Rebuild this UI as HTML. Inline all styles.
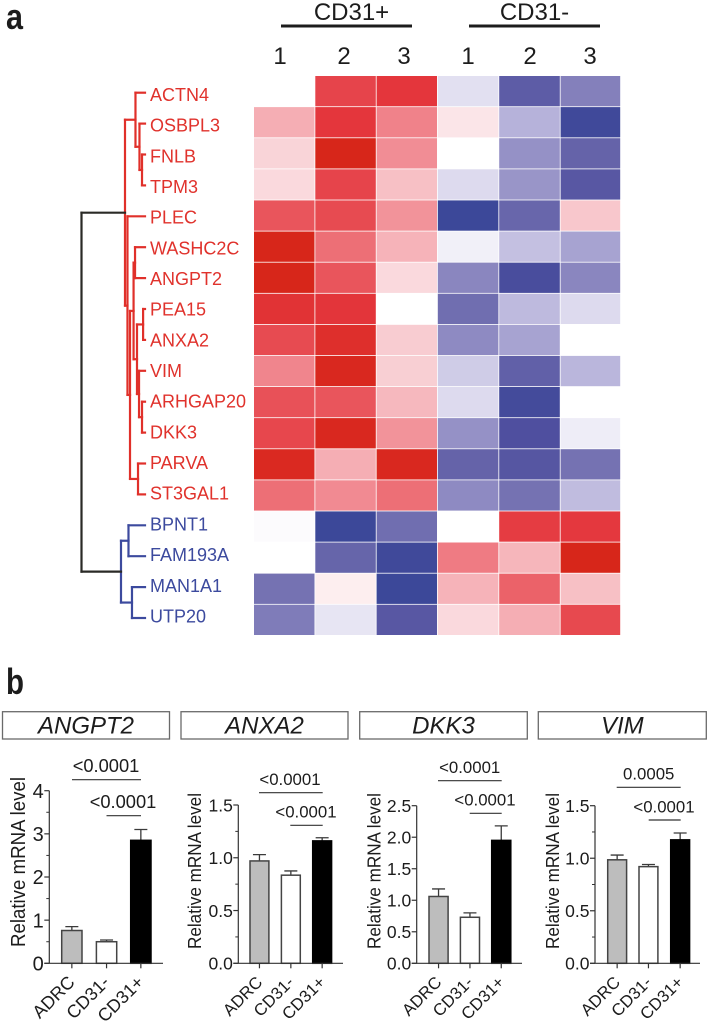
<!DOCTYPE html>
<html lang="en">
<head>
<meta charset="utf-8">
<title>CD31 heatmap and mRNA levels</title>
<style>
html,body{margin:0;padding:0;background:#fff;}
svg{display:block;}
text{font-family:"Liberation Sans",sans-serif;fill:#1c1c1c;}
</style>
</head>
<body>
<svg id="fig" xmlns="http://www.w3.org/2000/svg" width="708" height="1024" viewBox="0 0 708 1024">
  <text x="6" y="29" font-size="36" font-weight="bold" textLength="17" lengthAdjust="spacingAndGlyphs">a</text>
  <text x="6" y="694" font-size="36" font-weight="bold" textLength="18" lengthAdjust="spacingAndGlyphs">b</text>

  <text x="351.5" y="20" font-size="24" text-anchor="middle">CD31+</text>
  <line x1="281" x2="412" y1="26" y2="26" stroke="#1c1c1c" stroke-width="3"/>
  <text x="534.5" y="20" font-size="24" text-anchor="middle">CD31-</text>
  <line x1="469" x2="600" y1="26" y2="26" stroke="#1c1c1c" stroke-width="3"/>

  <text x="280" y="64" font-size="24" text-anchor="middle">1</text>
  <text x="344" y="64" font-size="24" text-anchor="middle">2</text>
  <text x="404" y="64" font-size="24" text-anchor="middle">3</text>
  <text x="468" y="64" font-size="24" text-anchor="middle">1</text>
  <text x="530" y="64" font-size="24" text-anchor="middle">2</text>
  <text x="590" y="64" font-size="24" text-anchor="middle">3</text>

  <g id="heat"></g>
  <g id="dendro"></g>
  <g id="labels"></g>
  <g id="bars"></g>
</svg>
<script>
// ---- heatmap data ----
const genes = ["ACTN4","OSBPL3","FNLB","TPM3","PLEC","WASHC2C","ANGPT2","PEA15","ANXA2","VIM","ARHGAP20","DKK3","PARVA","ST3GAL1","BPNT1","FAM193A","MAN1A1","UTP20"];
const heatValues = [
 [0,.78,.85,-.17,-.82,-.63],
 [.4,.85,.56,.15,-.4,-.98],
 [.25,1,.52,0,-.55,-.78],
 [.22,.78,.33,-.2,-.53,-.85],
 [.7,.75,.5,-1,-.76,.3],
 [1,.62,.38,-.08,-.33,-.47],
 [1,.7,.22,-.6,-.93,-.6],
 [.88,.86,0,-.72,-.36,-.2],
 [.75,.92,.28,-.58,-.47,0],
 [.55,.98,.27,-.27,-.8,-.38],
 [.72,.7,.36,-.2,-.96,0],
 [.77,.98,.5,-.55,-.9,-.1],
 [.97,.4,.98,-.78,-.86,-.7],
 [.62,.53,.62,-.58,-.7,-.35],
 [-.02,-1,-.72,0,.82,.84],
 [0,-.77,-.98,.58,.37,1],
 [-.7,.1,-1,.38,.66,.33],
 [-.65,-.14,-.85,.22,.4,.76]
];
// ---- dendrogram merge distances: [distance, childA, childB]; numbers are gene indexes ----
const redTree = [.315,
  [.15, 0, [.087, 1, [.047, 2, 3]]],
  [.276, 4,
    [.236,
      [.18,
        [.157, 5, 6],
        [.126, [.03, 7, 8], [.094, 9, [.047, 10, 11]]]],
      [.11, 12, 13]]]];
const blueTree = [.378, [.26, 14, 15], [.205, 16, 17]];
const rootDistance = 1;

// ---- bar chart data ----
const barCategories = ["ADRC","CD31-","CD31+"];
const chartTitles = ["ANGPT2","ANXA2","DKK3","VIM"];
const chartMeans = [[.76,.5,2.85],[.97,.835,1.16],[1.06,.73,1.95],[.985,.92,1.175]];
const chartErrorTops = [[.85,.54,3.1],[1.03,.875,1.19],[1.18,.8,2.18],[1.03,.94,1.24]];
const chartYMax = [4,1.5,2.5,1.5];
const chartMajorTicks = [[0,1,2,3,4],[0,.5,1,1.5],[0,.5,1,1.5,2,2.5],[0,.5,1,1.5]];
const chartMinorTicks = [[.5,1.5,2.5,3.5],[.25,.75,1.25],[],[.25,.75,1.25]];
const chartTickLabels = [["0","1","2","3","4"],["0.0","0.5","1.0","1.5"],["0.0","0.5","1.0","1.5","2.0","2.5"],["0.0","0.5","1.0","1.5"]];
const chartPLabels = [["<0.0001","<0.0001"],["<0.0001","<0.0001"],["<0.0001","<0.0001"],["0.0005","<0.0001"]];

// ---- layout (not data) ----
const SVGNS = "http://www.w3.org/2000/svg";
const heatEdgesX = [254,315.3,376.6,437.8,499.2,560.6,621];
const heatTop = 76, heatBottom = 635.8;
const panelLayouts = [
 {box:[2.5,169.5],axisX:49.3,top:790.7,endX:163,barX:[61,95.7,130],barW:21.7,labelX:25,titleMid:862,titleLen:170,labelFont:20,tickFont:20,pFont:18.3,catFont:18,sig:[[72,141,779.7,106],[106.5,141,815.7,123]]},
 {box:[181,348],axisX:238.3,top:805,endX:343,barX:[249.3,280.7,312],barW:20.3,labelX:201,titleMid:871,titleLen:156,labelFont:18,tickFont:17.5,pFont:16.8,catFont:16.8,sig:[[259,322.7,792.7,290],[290.3,322.7,825.3,306]]},
 {box:[359.7,527.3],axisX:416.7,top:805.7,endX:522,barX:[428.3,459.7,491],barW:20.5,labelX:380.7,titleMid:871,titleLen:156,labelFont:18,tickFont:17.5,pFont:16.8,catFont:16.8,sig:[[438,501.7,780.7,469.7],[469.7,501.7,813.3,485]]},
 {box:[538.3,706.3],axisX:595,top:805.7,endX:700,barX:[607,638.3,670],barW:20.3,labelX:559,titleMid:871,titleLen:156,labelFont:18,tickFont:17.5,pFont:16.8,catFont:16.8,sig:[[616.7,680.7,787.3,648.7],[648.7,680.7,820,664]]}
];
const baseY = 963.3;
const redStops = [[0,255,255,255],[.25,249,212,216],[.4,245,174,180],[.55,240,133,141],[.7,233,85,92],[.85,228,54,60],[1,215,38,26]];
const blueStops = [[0,255,255,255],[.2,221,218,238],[.4,182,178,218],[.6,138,134,191],[.75,106,104,172],[.9,79,79,159],[1,60,72,153]];

function colorFor(v){
  const stops = v >= 0 ? redStops : blueStops;
  const t = Math.min(1, Math.abs(v));
  for (let i = 1; i < stops.length; i++) {
    if (t <= stops[i][0]) {
      const a = stops[i-1], b = stops[i], f = (t-a[0])/(b[0]-a[0]);
      return "rgb(" + [1,2,3].map(k => Math.round(a[k]+(b[k]-a[k])*f)).join(",") + ")";
    }
  }
  return "rgb(215,38,26)";
}
function mk(parent, tag, attrs, txt){
  const el = document.createElementNS(SVGNS, tag);
  for (const k in attrs) el.setAttribute(k, attrs[k]);
  if (txt !== undefined) el.textContent = txt;
  parent.appendChild(el);
  return el;
}

// ---- heatmap ----
const heat = document.getElementById("heat");
const rowH = (heatBottom-heatTop)/genes.length;
heatValues.forEach((row, r) => {
  row.forEach((v, c) => {
    const cell = mk(heat, "rect", {
      x: heatEdgesX[c], y: heatTop+r*rowH,
      width: heatEdgesX[c+1]-heatEdgesX[c]-0.8, height: rowH-0.8,
      fill: colorFor(v)
    });
    
    
  });
});

// ---- gene labels ----
const labelsG = document.getElementById("labels");
const isBlueGene = i => i >= 14;
genes.forEach((g, i) => {
  const t = mk(labelsG, "text", {x:150, y:94.5+30.68*i+6.4, "font-size":18, style:"fill:"+(isBlueGene(i)?"#3c4a9e":"#e0322c")}, g);
  
  
});

// ---- dendrogram ----
const dendro = document.getElementById("dendro");
const leafX = 145, distSpan = 63.5;
const xOfDist = d => leafX - d*distSpan;
const yOfLeaf = i => 92.7 + 30.9*i;
function seg(x1,y1,x2,y2,color){
  const l = mk(dendro, "line", {x1,y1,x2,y2,stroke:color,"stroke-width":2.2,"stroke-linecap":"square"});
  
  
}
function drawNode(node, color){
  if (typeof node === "number") return {x:leafX, y:yOfLeaf(node)};
  const a = drawNode(node[1], color), b = drawNode(node[2], color);
  const x = xOfDist(node[0]);
  seg(x,a.y,a.x,a.y,color);
  seg(x,b.y,b.x,b.y,color);
  seg(x,a.y,x,b.y,color);
  return {x, y:(a.y+b.y)/2};
}
const redRoot = drawNode(redTree, "#e0302a");
const blueRoot = drawNode(blueTree, "#3c4a9e");
const rx = xOfDist(rootDistance);
seg(rx,redRoot.y,redRoot.x,redRoot.y,"#2a2a26");
seg(rx,blueRoot.y,blueRoot.x,blueRoot.y,"#2a2a26");
seg(rx,redRoot.y,rx,blueRoot.y,"#2a2a26");

// ---- bar charts ----
const barsG = document.getElementById("bars");
const barFills = ["#bdbdbd","#ffffff","#000000"];
panelLayouts.forEach((p, ci) => {
  const g = mk(barsG, "g", {});
  
  
  const yScale = v => baseY - v/chartYMax[ci]*(baseY-p.top);

  const box = mk(g, "rect", {x:p.box[0], y:711.7, width:p.box[1]-p.box[0], height:27.3, fill:"#fff", stroke:"#6a6a6a", "stroke-width":1.3});
  
  
  const title = mk(g, "text", {x:(p.box[0]+p.box[1])/2, y:733.5, "font-size":24, "font-style":"italic", "text-anchor":"middle"}, chartTitles[ci]);
  
  

  // bars
  chartMeans[ci].forEach((v, i) => {
    const cx = p.barX[i]+p.barW/2;
    const err = mk(g, "path", {d:"M"+cx+" "+yScale(v)+"V"+yScale(chartErrorTops[ci][i])+"M"+(cx-6.5)+" "+yScale(chartErrorTops[ci][i])+"H"+(cx+6.5), stroke:"#3a3a3a", "stroke-width":1.3, fill:"none"});
    
    
    const bar = mk(g, "rect", {x:p.barX[i]+.7, y:yScale(v), width:p.barW-1.4, height:baseY-yScale(v), fill:barFills[i], stroke:i===2?"#000":"#444", "stroke-width":1.5});
    
    
    const tick = mk(g, "line", {x1:cx, x2:cx, y1:baseY, y2:baseY+5, stroke:"#333", "stroke-width":1.2});
    
    
    const ax = cx+4, ay = baseY+20;
    const cat = mk(g, "text", {x:ax, y:ay, "font-size":p.catFont, "text-anchor":"end", transform:"rotate(-45 "+ax+" "+ay+")"}, barCategories[i]);
    
    
  });

  // axes
  const yAxis = mk(g, "line", {x1:p.axisX, x2:p.axisX, y1:p.top, y2:baseY, stroke:"#333", "stroke-width":1.2});
  
  
  const xAxis = mk(g, "line", {x1:p.axisX-5, x2:p.endX, y1:baseY, y2:baseY, stroke:"#333", "stroke-width":1.2});
  
  
  chartMajorTicks[ci].forEach((v, i) => {
    const y = yScale(v);
    const t = mk(g, "line", {x1:p.axisX-5, x2:p.axisX, y1:y, y2:y, stroke:"#333", "stroke-width":1.2});
    
    
    const l = mk(g, "text", {x:p.axisX-5.5, y:y+p.tickFont*.36, "font-size":p.tickFont, "text-anchor":"end"}, chartTickLabels[ci][i]);
    
    
  });
  chartMinorTicks[ci].forEach(v => {
    const y = yScale(v);
    const t = mk(g, "line", {x1:p.axisX-3, x2:p.axisX, y1:y, y2:y, stroke:"#333", "stroke-width":1});
    
    
  });
  const yt = mk(g, "text", {x:p.labelX, y:p.titleMid, "font-size":p.labelFont, "text-anchor":"middle", textLength:p.titleLen, lengthAdjust:"spacingAndGlyphs", transform:"rotate(-90 "+p.labelX+" "+p.titleMid+")"}, "Relative mRNA level");
  
  

  // significance brackets
  p.sig.forEach((s, i) => {
    const ln = mk(g, "line", {x1:s[0], x2:s[1], y1:s[2], y2:s[2], stroke:"#333", "stroke-width":1.2});
    
    
    const tx = mk(g, "text", {x:s[3], y:s[2]-7.6, "font-size":p.pFont, "text-anchor":"middle"}, chartPLabels[ci][i]);
    
    
  });
});
</script>
</body>
</html>
